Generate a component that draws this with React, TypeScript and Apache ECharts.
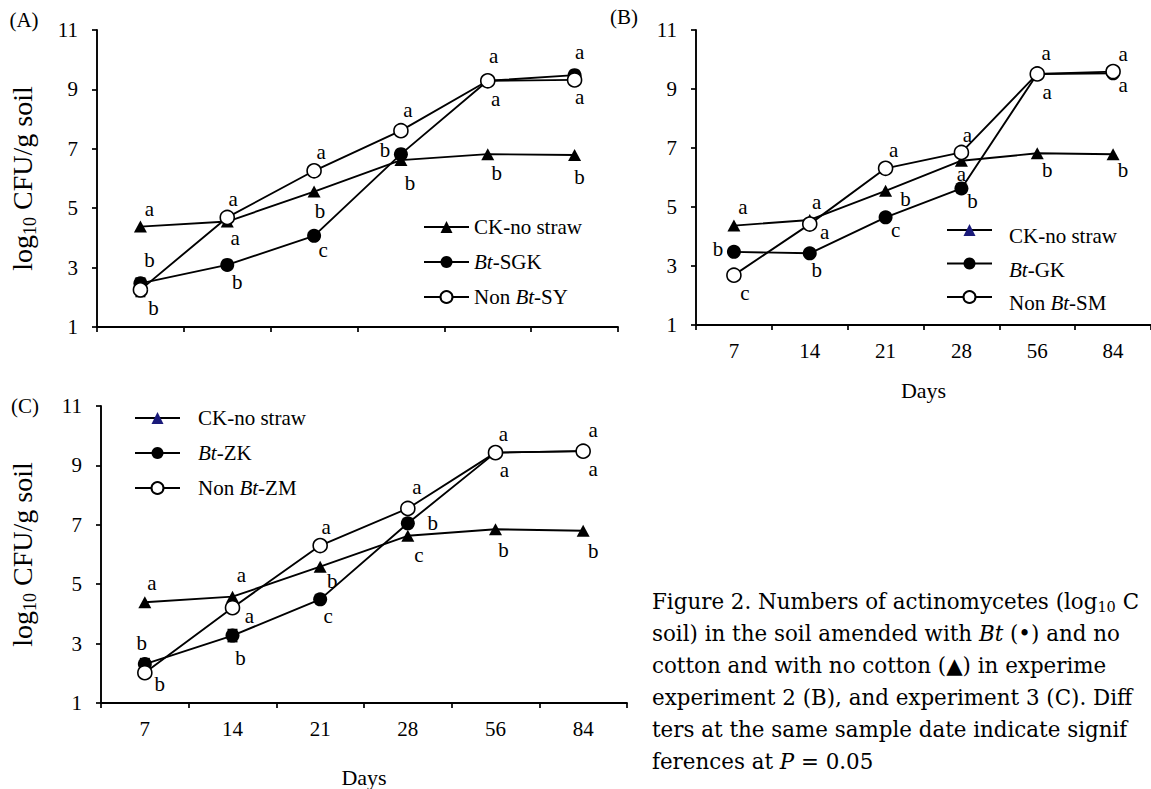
import React, { useEffect, useRef } from 'react';
import * as echarts from 'echarts';

// ---------- data ----------
const days = ['7', '14', '21', '28', '56', '84'];
const yMin = 1;
const yMax = 11;
const yStep = 2;

const namesA = ['CK-no straw', 'Bt-SGK', 'Non Bt-SY'];
const namesB = ['CK-no straw', 'Bt-GK', 'Non Bt-SM'];
const namesC = ['CK-no straw', 'Bt-ZK', 'Non Bt-ZM'];

const ckA = [4.38, 4.55, 5.56, 6.62, 6.82, 6.79];
const btA = [2.47, 3.09, 4.07, 6.82, 9.29, 9.48];
const nonA = [2.25, 4.69, 6.26, 7.61, 9.29, 9.32];

const ckB = [4.37, 4.56, 5.55, 6.57, 6.82, 6.79];
const btB = [3.48, 3.43, 4.65, 5.63, 9.51, 9.53];
const nonB = [2.69, 4.42, 6.31, 6.85, 9.51, 9.59];

const ckC = [4.39, 4.58, 5.59, 6.63, 6.85, 6.8];
const btC = [2.31, 3.27, 4.49, 7.05, 9.43, 9.48];
const nonC = [2.02, 4.21, 6.3, 7.55, 9.43, 9.48];

// standard errors (0 = none drawn)
const errBtA = [0.17, 0, 0, 0, 0, 0];
const errNonA = [0.22, 0, 0, 0, 0, 0];
const errNonB = [0.15, 0, 0, 0, 0, 0];
const errBtC = [0.18, 0.2, 0, 0, 0, 0];

// significance letters
const lettersCkA = ['a', 'a', 'b', 'b', 'b', 'b'];
const lettersBtA = ['b', 'b', 'c', 'b', 'a', 'a'];
const lettersNonA = ['b', 'a', 'a', 'a', 'a', 'a'];
const lettersCkB = ['a', 'a', 'b', 'a', 'b', 'b'];
const lettersBtB = ['b', 'b', 'c', 'b', 'a', 'a'];
const lettersNonB = ['c', 'a', 'a', 'a', 'a', 'a'];
const lettersCkC = ['a', 'a', 'b', 'c', 'b', 'b'];
const lettersBtC = ['b', 'b', 'c', 'b', 'a', 'a'];
const lettersNonC = ['b', 'a', 'a', 'a', 'a', 'a'];

const captionLines = [
  'Figure 2. Numbers of actinomycetes (log{s|10} C',
  'soil) in the soil amended with {i|Bt} (\u2022) and no',
  'cotton and with no cotton (\u25B2) in experime',
  'experiment 2 (B), and experiment 3 (C). Diff',
  'ters at the same sample date indicate signif',
  'ferences at {i|P} = 0.05',
];

// ---------- style (label offsets in px relative to the marker) ----------
const offCkA = [[9, -18], [8, 16], [6, 19], [9, 23], [9, 19], [5, 22]];
const offBtA = [[9, -23], [10, 17], [9, 14], [-16, -4], [8, 18], [5, -23]];
const offNonA = [[13, 18], [6, -18], [7, -19], [7, -21], [6, -25], [5, 17]];
const offCkB = [[9, -19], [7, -18], [20, 8], [0, 13], [10, 17], [10, 16]];
const offBtB = [[-16, -3], [7, 17], [10, 13], [11, 13], [10, 18], [10, 12]];
const offNonB = [[11, 18], [15, 8], [8, -18], [6, -17], [9, -21], [10, -18]];
const offCkC = [[7, -19], [9, -22], [12, 14], [11, 19], [8, 21], [10, 20]];
const offBtC = [[-3, -21], [8, 22], [8, 17], [25, 0], [9, 17], [10, 18]];
const offNonC = [[15, 11], [17, 8], [6, -19], [9, -21], [8, -19], [10, -21]];

const SERIF = '"Liberation Serif", "Times New Roman", serif';
const CAPTION_FONT = '"DejaVu Serif", serif';

function lineSeries(name: string, values: number[], letters: string[], offsets: number[][], kind: string, idx: number) {
  const marker =
    kind === 'ck'
      ? { symbol: 'triangle', symbolSize: [13, 12], itemStyle: { color: '#000' } }
      : kind === 'bt'
      ? { symbol: 'circle', symbolSize: 14, itemStyle: { color: '#000' } }
      : { symbol: 'circle', symbolSize: 14, itemStyle: { color: '#fff', borderColor: '#000', borderWidth: 1.6 } };
  return {
    type: 'line',
    name,
    xAxisIndex: idx,
    yAxisIndex: idx,
    z: 3,
    color: '#000',
    ...marker,
    lineStyle: { color: '#000', width: 1.9 },
    emphasis: { disabled: true },
    label: { show: true, color: '#000', fontFamily: SERIF, fontSize: 21 },
    data: values.map((v, i) => ({
      value: v,
      label: { show: true, position: 'inside', formatter: letters[i], offset: offsets[i] },
    })),
  };
}

function errSeries(values: number[], errs: number[], idx: number) {
  const data = values.map((v, i) => [i, v, errs[i]]).filter((d) => d[2] > 0);
  return {
    type: 'custom',
    name: 'err' + idx,
    xAxisIndex: idx,
    yAxisIndex: idx,
    z: 2,
    silent: true,
    encode: { x: 0, y: 1 },
    data,
    renderItem: (_p: any, api: any) => {
      const x = api.value(0);
      const v = api.value(1);
      const e = api.value(2);
      const top = api.coord([x, v + e]);
      const bot = api.coord([x, v - e]);
      const w = 5;
      const st = { stroke: '#000', lineWidth: 1.8 };
      return {
        type: 'group',
        children: [
          { type: 'line', shape: { x1: top[0], y1: top[1], x2: bot[0], y2: bot[1] }, style: st },
          { type: 'line', shape: { x1: top[0] - w, y1: top[1], x2: top[0] + w, y2: top[1] }, style: st },
          { type: 'line', shape: { x1: bot[0] - w, y1: bot[1], x2: bot[0] + w, y2: bot[1] }, style: st },
        ],
      };
    },
  };
}

const axisLineStyle = { color: '#000', width: 1.9 };

function xAxis(idx: number, showLabels: boolean, nameGap: number) {
  return {
    type: 'category',
    gridIndex: idx,
    data: days,
    boundaryGap: true,
    axisLine: { lineStyle: axisLineStyle, onZero: false },
    axisTick: { show: true, length: 5, lineStyle: { color: '#000', width: 1.7 } },
    axisLabel: { show: showLabels, color: '#000', fontFamily: SERIF, fontSize: 21, margin: 15 },
    name: showLabels ? 'Days' : '',
    nameLocation: 'middle',
    nameGap,
    nameTextStyle: { color: '#000', fontFamily: SERIF, fontSize: 22 },
    splitLine: { show: false },
  };
}

function yAxis(idx: number, showName: boolean, nameGap: number) {
  return {
    type: 'value',
    gridIndex: idx,
    min: yMin,
    max: yMax,
    interval: yStep,
    axisLine: { show: true, lineStyle: axisLineStyle },
    axisTick: { show: true, length: 5, lineStyle: { color: '#000', width: 1.7 } },
    axisLabel: { color: '#000', fontFamily: SERIF, fontSize: 21, margin: 19 },
    splitLine: { show: false },
    name: showName ? '{a|log}{s|10}{a| CFU/g soil}' : '',
    nameLocation: 'middle',
    nameRotate: 90,
    nameGap,
    nameTextStyle: {
      color: '#000',
      fontFamily: SERIF,
      fontSize: 28,
      rich: {
        a: { fontFamily: SERIF, fontSize: 28, lineHeight: 34, color: '#000' },
        s: { fontFamily: SERIF, fontSize: 18, lineHeight: 18, verticalAlign: 'bottom', color: '#000' },
      },
    },
  };
}

function legend(names: string[], left: number, top: number, gap: number, lineHeight: number, pad: number[], navy: boolean) {
  return {
    orient: 'vertical',
    left,
    top,
    padding: 0,
    itemGap: gap,
    itemWidth: 45,
    itemHeight: 15,
    selectedMode: false,
    data: names.map((n, i) => (i === 0 && navy ? { name: n, itemStyle: { color: '#1a1a7a' } } : { name: n })),
    formatter: (n: string) => n.replace('Bt', '{i|Bt}'),
    textStyle: {
      color: '#000',
      fontFamily: SERIF,
      fontSize: 21,
      lineHeight,
      padding: pad,
      rich: {
        i: { fontFamily: SERIF, fontSize: 21, fontStyle: 'italic', lineHeight, color: '#000' },
      },
    },
  };
}

export default function App() {
  const ref = useRef<HTMLDivElement>(null);
  useEffect(() => {
    if (!ref.current) return;
    const chart = echarts.init(ref.current, undefined, { renderer: 'svg' });
    const option = {
      animation: false,
      backgroundColor: '#fff',
      grid: [
        { left: 97, top: 30, width: 521, height: 297 },
        { left: 696, top: 30, width: 459, height: 295 },
        { left: 101, top: 406, width: 526, height: 297 },
      ],
      xAxis: [xAxis(0, false, 0), xAxis(1, true, 54), xAxis(2, true, 63)],
      yAxis: [yAxis(0, true, 58), yAxis(1, false, 0), yAxis(2, true, 62)],
      legend: [
        legend(namesA, 423, 216, 13, 22, [0, 0, 0, 0], false),
        legend(namesB, 946, 214, 1, 20, [12, 0, 0, 12], true),
        legend(namesC, 134, 407, 13, 22, [0, 0, 0, 13], true),
      ],
      series: [
        errSeries(btA, errBtA, 0),
        errSeries(nonA, errNonA, 0),
        errSeries(nonB, errNonB, 1),
        errSeries(btC, errBtC, 2),
        lineSeries(namesA[0], ckA, lettersCkA, offCkA, 'ck', 0),
        lineSeries(namesA[1], btA, lettersBtA, offBtA, 'bt', 0),
        lineSeries(namesA[2], nonA, lettersNonA, offNonA, 'non', 0),
        lineSeries(namesB[0], ckB, lettersCkB, offCkB, 'ck', 1),
        lineSeries(namesB[1], btB, lettersBtB, offBtB, 'bt', 1),
        lineSeries(namesB[2], nonB, lettersNonB, offNonB, 'non', 1),
        lineSeries(namesC[0], ckC, lettersCkC, offCkC, 'ck', 2),
        lineSeries(namesC[1], btC, lettersBtC, offBtC, 'bt', 2),
        lineSeries(namesC[2], nonC, lettersNonC, offNonC, 'non', 2),
      ],
      graphic: [
        { type: 'text', x: 24, y: 20, style: { text: '(A)', fill: '#000', fontFamily: SERIF, fontSize: 21, align: 'center', verticalAlign: 'middle' } },
        { type: 'text', x: 624, y: 17, style: { text: '(B)', fill: '#000', fontFamily: SERIF, fontSize: 21, align: 'center', verticalAlign: 'middle' } },
        { type: 'text', x: 25, y: 406, style: { text: '(C)', fill: '#000', fontFamily: SERIF, fontSize: 21, align: 'center', verticalAlign: 'middle' } },
        ...captionLines.map((t, i) => ({
          type: 'text',
          x: 652,
          y: 601 + i * 32,
          style: {
            text: t,
            fill: '#000',
            fontFamily: CAPTION_FONT,
            fontSize: 21.4,
            lineHeight: 27,
            align: 'left',
            verticalAlign: 'middle',
            rich: {
              s: { fontFamily: CAPTION_FONT, fontSize: 14.5, lineHeight: 15, verticalAlign: 'bottom', fill: '#000' },
              i: { fontFamily: CAPTION_FONT, fontSize: 21.4, lineHeight: 27, fontStyle: 'italic', fill: '#000' },
            },
          },
        })),
      ],
    };
    chart.setOption(option as any);
    return () => chart.dispose();
  }, []);
  return <div ref={ref} style={{ position: 'absolute', left: 0, top: 0, width: 1151, height: 789, background: '#fff' }} />;
}
